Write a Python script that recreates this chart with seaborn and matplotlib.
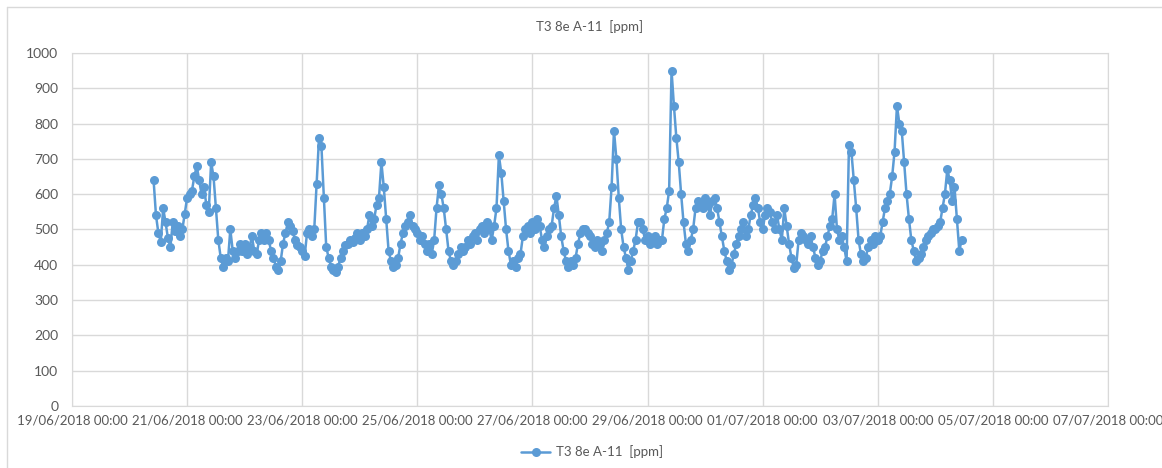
import matplotlib
matplotlib.use("Agg")
import matplotlib.pyplot as plt
import matplotlib.dates as mdates
from matplotlib.lines import Line2D
import seaborn as sns
import pandas as pd
import numpy as np

# hourly readings from 20/06/2018 10:00, one row per 24 h
series_name = "T3 8e A-11  [ppm]"
start_time = "2018-06-20 10:00"
day0 = [640, 540, 490, 465, 560, 520, 475, 450, 520, 495, 510, 480, 500, 545, 590, 600, 610, 650, 680, 640, 600, 620, 570, 550]
day1 = [690, 650, 560, 470, 420, 395, 420, 410, 500, 440, 420, 440, 460, 440, 460, 430, 450, 480, 440, 430, 470, 490, 470, 490]
day2 = [470, 440, 420, 395, 385, 410, 460, 490, 520, 510, 495, 470, 455, 450, 440, 425, 490, 500, 480, 500, 630, 760, 735, 590]
day3 = [450, 420, 395, 385, 380, 395, 420, 440, 455, 460, 470, 465, 475, 490, 470, 490, 480, 500, 540, 510, 530, 570, 590, 690]
day4 = [620, 530, 440, 410, 395, 400, 420, 460, 490, 510, 520, 540, 510, 500, 490, 470, 480, 460, 440, 460, 430, 470, 560, 625]
day5 = [600, 560, 500, 440, 410, 400, 410, 430, 450, 440, 450, 470, 460, 480, 490, 470, 500, 510, 490, 520, 500, 470, 510, 560]
day6 = [710, 660, 580, 500, 440, 400, 410, 395, 420, 430, 480, 500, 510, 490, 520, 500, 530, 510, 470, 450, 480, 500, 510, 560]
day7 = [595, 540, 480, 440, 410, 395, 410, 400, 420, 460, 490, 500, 500, 490, 480, 460, 450, 470, 460, 440, 470, 490, 520, 620]
day8 = [780, 700, 590, 500, 450, 420, 385, 410, 440, 470, 520, 520, 500, 470, 480, 460, 470, 480, 460, 470, 470, 530, 560, 610]
day9 = [950, 850, 760, 690, 600, 520, 460, 440, 470, 500, 560, 580, 570, 560, 590, 570, 540, 580, 590, 560, 520, 480, 440, 410]
day10 = [385, 400, 430, 460, 480, 500, 520, 480, 500, 540, 570, 590, 560, 520, 500, 540, 560, 550, 520, 500, 540, 500, 470, 560]
day11 = [510, 460, 420, 390, 400, 470, 490, 480, 470, 460, 480, 450, 420, 400, 410, 440, 450, 480, 510, 530, 600, 500, 470, 480]
day12 = [450, 410, 740, 720, 640, 560, 470, 430, 410, 420, 450, 470, 460, 480, 470, 480, 520, 560, 580, 600, 650, 720, 850, 800]
day13 = [780, 690, 600, 530, 470, 440, 410, 420, 430, 450, 470, 480, 490, 500, 500, 510, 520, 560, 600, 670, 640, 580, 620, 530]
day14 = [440, 470]

ppm = (day0 + day1 + day2 + day3 + day4 + day5 + day6 + day7 + day8 + day9
       + day10 + day11 + day12 + day13 + day14)
df = pd.DataFrame({
    "time": pd.date_range(start_time, periods=len(ppm), freq="h"),
    "ppm": ppm,
})

sns.set_style("white")
plt.rcParams["font.family"] = ["Lato", "DejaVu Sans"]
grey_text = "#595959"
grid_col = "#D9D9D9"
blue = "#5B9BD5"

fig, ax = plt.subplots(figsize=(11.62, 4.68), dpi=100)
fig.subplots_adjust(left=0.062, right=0.9535, bottom=0.1325, top=0.887)

sns.lineplot(data=df, x="time", y="ppm", ax=ax, color=blue, linewidth=1.8,
             marker="o", markersize=6.5, markeredgewidth=0, label=series_name)

ax.set_xlim(pd.Timestamp("2018-06-19"), pd.Timestamp("2018-07-07"))
ax.set_ylim(0, 1000)
ax.set_yticks(np.arange(0, 1001, 100))
ax.set_xticks(pd.date_range("2018-06-19", "2018-07-07", freq="2D"))
ax.xaxis.set_major_formatter(mdates.DateFormatter("%d/%m/%Y %H:%M"))

ax.grid(True, color=grid_col, linewidth=1)
ax.set_axisbelow(True)
for s in ax.spines.values():
    s.set_color(grid_col)
ax.tick_params(axis="y", length=0, pad=10, labelsize=10, labelcolor=grey_text)
ax.tick_params(axis="x", length=0, pad=6, labelsize=9.5, labelcolor=grey_text)
ax.set_xlabel("")
ax.set_ylabel("")

fig.text(590 / 1162, 1 - 27 / 468, series_name, ha="center", va="center",
         fontsize=9.5, color=grey_text)

handles, labels = ax.get_legend_handles_labels()
ax.get_legend().remove()
fig.legend(handles, labels, loc="center", bbox_to_anchor=(592 / 1162, 1 - 452 / 468),
           frameon=False, fontsize=9.5, labelcolor=grey_text, handlelength=2.2,
           handletextpad=0.4)

# outer chart border (top and left visible)
fig.add_artist(Line2D([6.5 / 1162, 1], [1 - 6.5 / 468, 1 - 6.5 / 468],
                      transform=fig.transFigure, color=grid_col, linewidth=1))
fig.add_artist(Line2D([6.5 / 1162, 6.5 / 1162], [0, 1 - 6.5 / 468],
                      transform=fig.transFigure, color=grid_col, linewidth=1))

fig.savefig("out.png", dpi=100, facecolor="white")
